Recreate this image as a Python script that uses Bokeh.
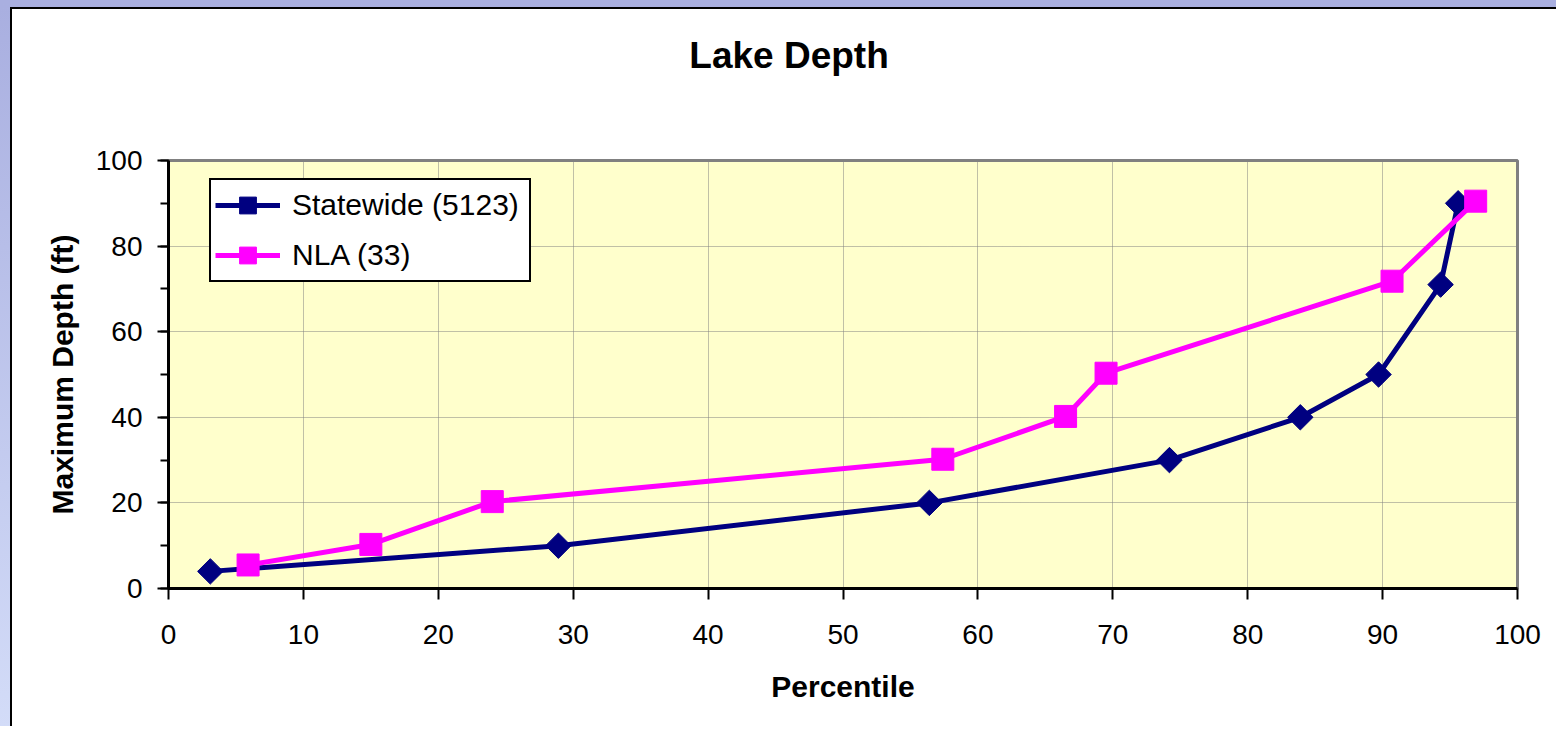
from bokeh.plotting import figure
from bokeh.layouts import column
from bokeh.models import Range1d, SingleIntervalTicker, Legend, LegendItem, Title
from bokeh.embed import file_html
from bokeh.resources import INLINE
import math

# ---- data ----
statewide_x = [3.1, 28.9, 56.4, 74.2, 83.9, 89.7, 94.3, 95.6]
statewide_y = [4, 10, 20, 30, 40, 50, 71, 90]
nla_x = [5.9, 15.0, 24.0, 57.4, 66.5, 69.5, 90.7, 96.9]
nla_y = [5.5, 10.3, 20.3, 30.2, 40.2, 50.3, 71.8, 90.5]
x_ticks = [0, 10, 20, 30, 40, 50, 60, 70, 80, 90, 100]
series_names = ["Statewide (5123)", "NLA (33)"]
title_text = "Lake Depth"
x_label = "Percentile"
y_label = "Maximum Depth (ft)"

FONT = "Liberation Sans"
OFF_X, OFF_Y = 12, 9
W, H = 1544, 717

p = figure(width=W, height=H, output_backend="svg", toolbar_location=None,
           x_range=Range1d(0, 100), y_range=Range1d(0, 100),
           min_border_left=168 - OFF_X, min_border_right=W - (1517 - OFF_X),
           min_border_top=160 - OFF_Y, min_border_bottom=H - (588 - OFF_Y))

p.background_fill_color = "#FFFFCC"
p.border_fill_color = "#FFFFFF"
p.outline_line_color = "#808080"
p.outline_line_width = 3

# spacer panel between plot area and title, then the real title outside it
p.add_layout(Title(text=" ", text_font_size="1px", standoff=82), "above")
p.title.text = title_text
p.title.align = "left"
p.title.offset = 520.8
p.title.standoff = 0
p.title.text_font = FONT
p.title.text_font_size = "37px"
p.title.text_font_style = "bold"
p.title.text_color = "black"

# axes
p.xaxis.ticker = x_ticks
p.yaxis.ticker = SingleIntervalTicker(interval=20, num_minor_ticks=2)
for ax in (p.xaxis[0], p.yaxis[0]):
    ax.axis_line_color = "black"
    ax.axis_line_width = 3
    ax.major_tick_line_color = "black"
    ax.major_tick_line_width = 2
    ax.major_tick_in = 0
    ax.major_tick_out = 11
    ax.minor_tick_line_color = "black"
    ax.minor_tick_line_width = 2
    ax.minor_tick_in = 0
    ax.minor_tick_out = 8
    ax.major_label_text_font = FONT
    ax.major_label_text_font_size = "28px"
    ax.major_label_text_color = "black"
    ax.axis_label_text_font = FONT
    ax.axis_label_text_font_size = "30px"
    ax.axis_label_text_font_style = "bold"
    ax.axis_label_text_color = "black"
p.xaxis.minor_tick_line_color = None
p.xaxis.major_label_standoff = 25
p.yaxis.major_label_standoff = 15
p.xaxis.axis_label = x_label
p.yaxis.axis_label = y_label
p.xaxis.axis_label_standoff = 23
p.yaxis.axis_label_standoff = 14

# grid
for g in (p.xgrid[0], p.ygrid[0]):
    g.grid_line_color = "#808080"
    g.grid_line_dash = "1 1"
    g.grid_line_width = 1

# series
sw_line = p.line(statewide_x, statewide_y, line_color="#000080", line_width=5)
sw_pts = p.scatter(statewide_x, statewide_y, marker="square", angle=math.pi / 4,
                   size=18, fill_color="#000080", line_color="#000080")
nla_line = p.line(nla_x, nla_y, line_color="#FF00FF", line_width=5)
nla_pts = p.scatter(nla_x, nla_y, marker="square", size=22,
                    fill_color="#FF00FF", line_color="#FF00FF")

legend = Legend(items=[LegendItem(label=series_names[0], renderers=[sw_line, sw_pts]),
                       LegendItem(label=series_names[1], renderers=[nla_line, nla_pts])],
                location=(41, 306), orientation="vertical",
                glyph_width=65, glyph_height=42, label_standoff=12, label_width=233,
                spacing=8, padding=4, margin=0,
                label_text_font=FONT, label_text_font_size="30px", label_text_color="black",
                border_line_color="black", border_line_width=2, border_line_alpha=1.0,
                background_fill_color="white", background_fill_alpha=1.0)
p.add_layout(legend, "center")

inner = column(p, styles={"border-left": "2px solid #000000", "border-top": "2px solid #000000",
                          "background": "#FFFFFF", "overflow": "hidden"})
outer = column(inner, styles={"border-left": "10px solid #B8C0EA", "border-top": "7px solid #AAB0E0",
                              "border-image": "linear-gradient(to bottom, #A9AFE0, #D3DCF8) 1",
                              "background": "#FFFFFF", "overflow": "hidden"})

open("out.html", "w").write(file_html(outer, INLINE))
